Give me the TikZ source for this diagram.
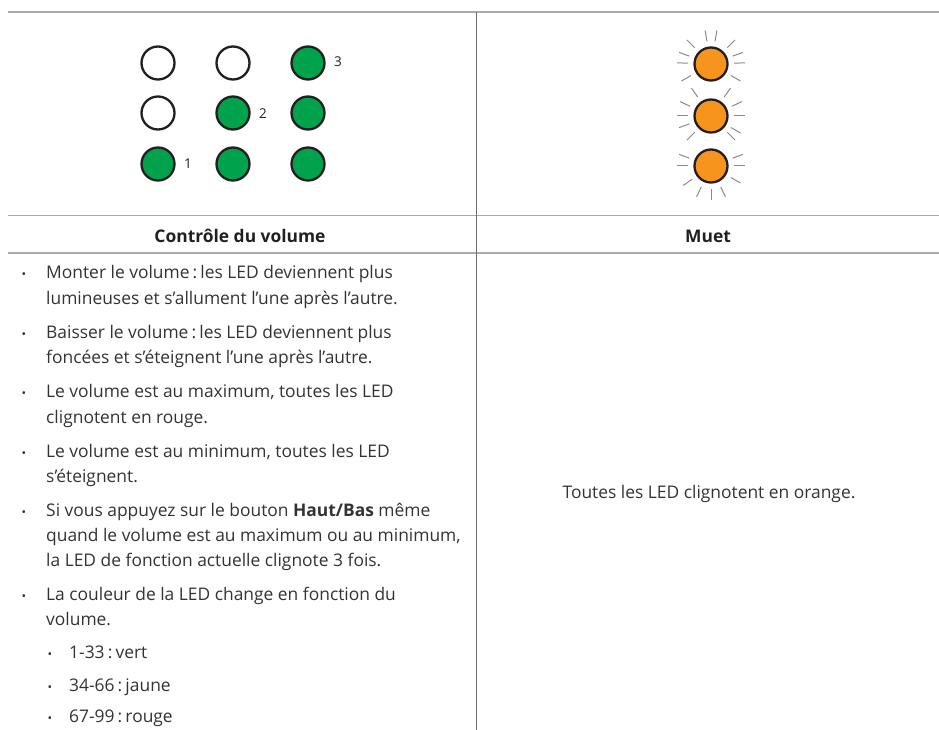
\documentclass[tikz,border=0pt]{standalone}
\usepackage{fontspec}
\setmainfont{Open Sans}
\definecolor{ledgreen}{HTML}{00A24C}
\definecolor{ledorange}{HTML}{F7941E}
\definecolor{ink}{HTML}{231F20}
\definecolor{txt}{HTML}{333333}
\definecolor{rulegray}{HTML}{AAAAAA}
\definecolor{vrulegray}{HTML}{6D6D6D}
\definecolor{raygray}{HTML}{8A8A8A}
\newcommand{\cl}{\hspace{0.18em}:\hspace{0.18em}}
\begin{document}
\begin{tikzpicture}[x=1pt,y=-1pt,
  led/.style={circle,draw=ink,line width=2.3pt,minimum size=33pt,inner sep=0pt},
  ledon/.style={led,fill=ledgreen},
  ledoff/.style={led,fill=white},
  ledor/.style={led,fill=ledorange},
  ray/.style={draw=raygray,line width=1pt},
  hrule/.style={draw=rulegray,line width=1.4pt},
  vrule/.style={draw=vrulegray,line width=1pt},
  body/.style={anchor=base west,inner sep=0pt,text=txt,font=\fontsize{17.4}{20}\selectfont},
  bul/.style={anchor=base,inner sep=0pt,text=txt,font=\fontsize{12}{14}\selectfont},
  head/.style={anchor=base,inner sep=0pt,text=ink,font=\fontsize{17.4}{20}\selectfont\bfseries},
  num/.style={anchor=center,inner sep=0pt,text=ink,font=\fontsize{13.5}{15}\selectfont}]
\useasboundingbox (0,0) rectangle (939,730);
% table rules
\coordinate (tl) at (8,12);
\coordinate (tr) at (939,12);
\coordinate (ml) at (8,215.5);
\coordinate (mr) at (939,215.5);
\coordinate (bl) at (8,253);
\coordinate (br) at (939,253);
\coordinate (vt) at (476,12);
\coordinate (vb) at (476,730);
\draw[hrule] (tl) -- (tr);
\draw[hrule] (ml) -- (mr);
\draw[hrule] (bl) -- (br);
\draw[vrule] (vt) -- (vb);
% green LED grid
\node[ledoff] (g11) at (158,63) {};
\node[ledoff] (g12) at (233,63) {};
\node[ledon]  (g13) at (308,63) {};
\node[ledoff] (g21) at (158,113) {};
\node[ledon]  (g22) at (233,113) {};
\node[ledon]  (g23) at (308,113) {};
\node[ledon]  (g31) at (158,164) {};
\node[ledon]  (g32) at (233,164) {};
\node[ledon]  (g33) at (308,164) {};
\node[num] (n3) at (338,62) {3};
\node[num] (n2) at (263,114) {2};
\node[num] (n1) at (188,164) {1};
% orange LEDs with rays
\node[ledor] (o1) at (711,64) {};
\node[ledor] (o2) at (711,116) {};
\node[ledor] (o3) at (711,166) {};
\foreach \a in {100,80,135,45,160,20,178,2,210,330}
  \draw[ray] (o1.center) ++(-\a:23) -- ++(-\a:11);
\foreach \a in {125,55,155,25,180,0,200,330,225,315}
  \draw[ray] (o2.center) ++(-\a:23) -- ++(-\a:11);
\foreach \a in {160,20,180,0,215,330,245,270,295}
  \draw[ray] (o3.center) ++(-\a:23) -- ++(-\a:11);
% headers
\node[head] (h1) at (240,242) {Contrôle du volume};
\node[head] (h2) at (708,242) {Muet};
% left column bullets
\node[bul] (b1) at (24,278) {•};
\node[body] (t1a) at (46,278) {Monter le volume\cl les LED deviennent plus};
\node[body] (t1b) at (46,304) {lumineuses et s’allument l’une après l’autre.};
\node[bul] (b2) at (24,338) {•};
\node[body] (t2a) at (46,338) {Baisser le volume\cl les LED deviennent plus};
\node[body] (t2b) at (46,363) {foncées et s’éteignent l’une après l’autre.};
\node[bul] (b3) at (24,397) {•};
\node[body] (t3a) at (46,397) {Le volume est au maximum, toutes les LED};
\node[body] (t3b) at (46,423) {clignotent en rouge.};
\node[bul] (b4) at (24,457) {•};
\node[body] (t4a) at (46,457) {Le volume est au minimum, toutes les LED};
\node[body] (t4b) at (46,482) {s’éteignent.};
\node[bul] (b5) at (24,516) {•};
\node[body] (t5a) at (46,516) {Si vous appuyez sur le bouton \textbf{Haut/Bas} même};
\node[body] (t5b) at (46,541) {quand le volume est au maximum ou au minimum,};
\node[body] (t5c) at (46,566) {la LED de fonction actuelle clignote 3 fois.};
\node[bul] (b6) at (24,600) {•};
\node[body] (t6a) at (46,600) {La couleur de la LED change en fonction du};
\node[body] (t6b) at (46,625) {volume.};
\node[bul] (s1) at (50,658) {•};
\node[body] (u1) at (69,658) {1-33\cl vert};
\node[bul] (s2) at (50,691) {•};
\node[body] (u2) at (69,691) {34-66\cl jaune};
\node[bul] (s3) at (50,722) {•};
\node[body] (u3) at (69,722) {67-99\cl rouge};
% right column
\node[body,anchor=base] (r1) at (709,498) {Toutes les LED clignotent en orange.};
\end{tikzpicture}
\end{document}
